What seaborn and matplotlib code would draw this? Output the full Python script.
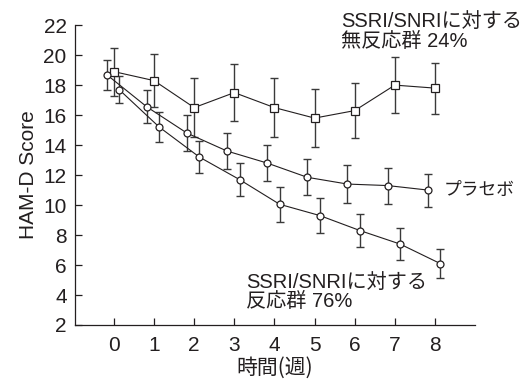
import numpy as np
import pandas as pd
import matplotlib
matplotlib.use("Agg")
import matplotlib.pyplot as plt
import seaborn as sns

weeks = [0, 1, 2, 3, 4, 5, 6, 7, 8]

# SSRI/SNRI non-responders (squares)
nonresp = [18.9, 18.3, 16.5, 17.5, 16.5, 15.8, 16.3, 18.0, 17.8]
nonresp_err = [1.6, 1.75, 1.95, 1.9, 1.95, 1.95, 1.85, 1.85, 1.7]

# placebo (circles, shifted left)
placebo = [18.7, 16.55, 14.8, 13.6, 12.8, 11.85, 11.4, 11.3, 11.0]
placebo_err = [1.0, 1.1, 1.2, 1.2, 1.2, 1.2, 1.25, 1.2, 1.1]

# SSRI/SNRI responders (circles, shifted right)
resp = [17.7, 15.2, 13.2, 11.7, 10.05, 9.3, 8.3, 7.4, 6.1]
resp_err = [0.9, 1.0, 1.05, 1.1, 1.15, 1.17, 1.1, 1.05, 0.95]

offsets = {"nonresp": 0.0, "placebo": -0.18, "resp": 0.13}

sns.set_style("ticks")
plt.rcParams['font.family'] = ['Liberation Sans', 'Noto Sans CJK JP']
txt = "#231f20"

fig = plt.figure(figsize=(5.23, 3.81), dpi=100)
ax = fig.add_axes([0.1434, 0.147, 0.765, 0.787])

series = [
    ("nonresp", nonresp, nonresp_err, "s"),
    ("placebo", placebo, placebo_err, "o"),
    ("resp", resp, resp_err, "o"),
]
for name, vals, errs, mk in series:
    x = np.array(weeks) + offsets[name]
    df = pd.DataFrame({"week": x, "score": vals})
    ax.errorbar(x, vals, yerr=errs, fmt="none", ecolor="#3a3a3a",
                elinewidth=1.0, capsize=3, capthick=1.0, zorder=2)
    sns.lineplot(data=df, x="week", y="score", ax=ax, color="#231f20",
                 linewidth=0.8, marker=mk, markersize=5 if mk == "o" else 5.5,
                 markerfacecolor="white", markeredgecolor="#231f20",
                 markeredgewidth=0.9, zorder=3)

ax.set_xlim(-0.97, 9.0)
ax.set_ylim(2, 22)
ax.set_xticks(weeks)
ax.set_yticks(range(2, 23, 2))
ax.tick_params(direction="in", length=5, width=0.9, labelsize=15,
               colors=txt)
ax.tick_params(axis="x", pad=8)
ax.tick_params(axis="y", pad=6)
sns.despine(ax=ax)
for s in ["left", "bottom"]:
    ax.spines[s].set_linewidth(0.9)
    ax.spines[s].set_color(txt)

ax.set_xlabel("時間(週)", fontsize=15, color=txt, labelpad=1,
              family=['Noto Sans CJK JP'])
ax.set_ylabel("HAM-D Score", fontsize=15, color=txt, labelpad=4)

ax.text(5.65, 22.85, "SSRI/SNRIに対する\n無反応群 24%", fontsize=14.5,
        color=txt, va="top", ha="left", linespacing=1.05, clip_on=False)
ax.text(8.22, 11.0, "プラセボ", fontsize=12.8, color=txt, va="center",
        ha="left", clip_on=False)
ax.text(3.3, 5.5, "SSRI/SNRIに対する\n反応群 76%", fontsize=14.5,
        color=txt, va="top", ha="left", linespacing=1.05)

fig.savefig("out.png", dpi=100)
